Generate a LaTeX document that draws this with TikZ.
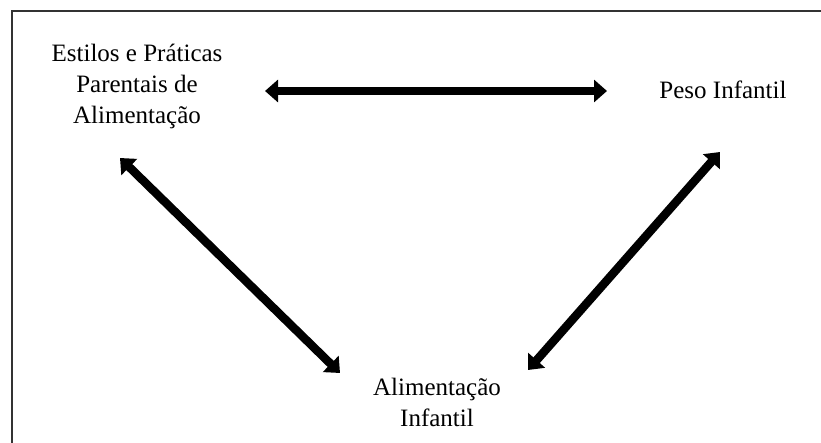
\documentclass[tikz,border=0pt]{standalone}
\usepackage{fontspec}
\setmainfont{Liberation Serif}
\usetikzlibrary{arrows.meta}
\tikzset{
  label text/.style={font=\fontsize{25}{31}\selectfont, align=center, inner sep=0pt},
  link/.style={line width=8.5pt, {Triangle[length=13pt,width=22pt]}-{Triangle[length=13pt,width=22pt]}},
  frame line/.style={line width=1.5pt, draw=black!80}
}
\begin{document}
\begin{tikzpicture}[x=1pt,y=-1pt]
  \useasboundingbox (0,0) rectangle (821,443);
  % open frame: top and left edges
  \draw[frame line] (821,11) -- (12,11) -- (12,443);

  % the three constructs
  \node[label text] (estilos) at (137,86) {Estilos e Práticas\\Parentais de\\Alimentação};
  \node[label text, anchor=base] (peso) at (723,99) {Peso Infantil};
  \node[label text] (alim) at (437,402) {Alimentação\\Infantil};

  % arrow end points
  \coordinate (h1) at (265,91);
  \coordinate (h2) at (607,91);
  \coordinate (l1) at (120,158);
  \coordinate (l2) at (340,373);
  \coordinate (r1) at (720,152);
  \coordinate (r2) at (528,370);

  % bidirectional relations
  \draw[link] (h1) -- (h2);
  \draw[link] (l1) -- (l2);
  \draw[link] (r2) -- (r1);
\end{tikzpicture}
\end{document}
